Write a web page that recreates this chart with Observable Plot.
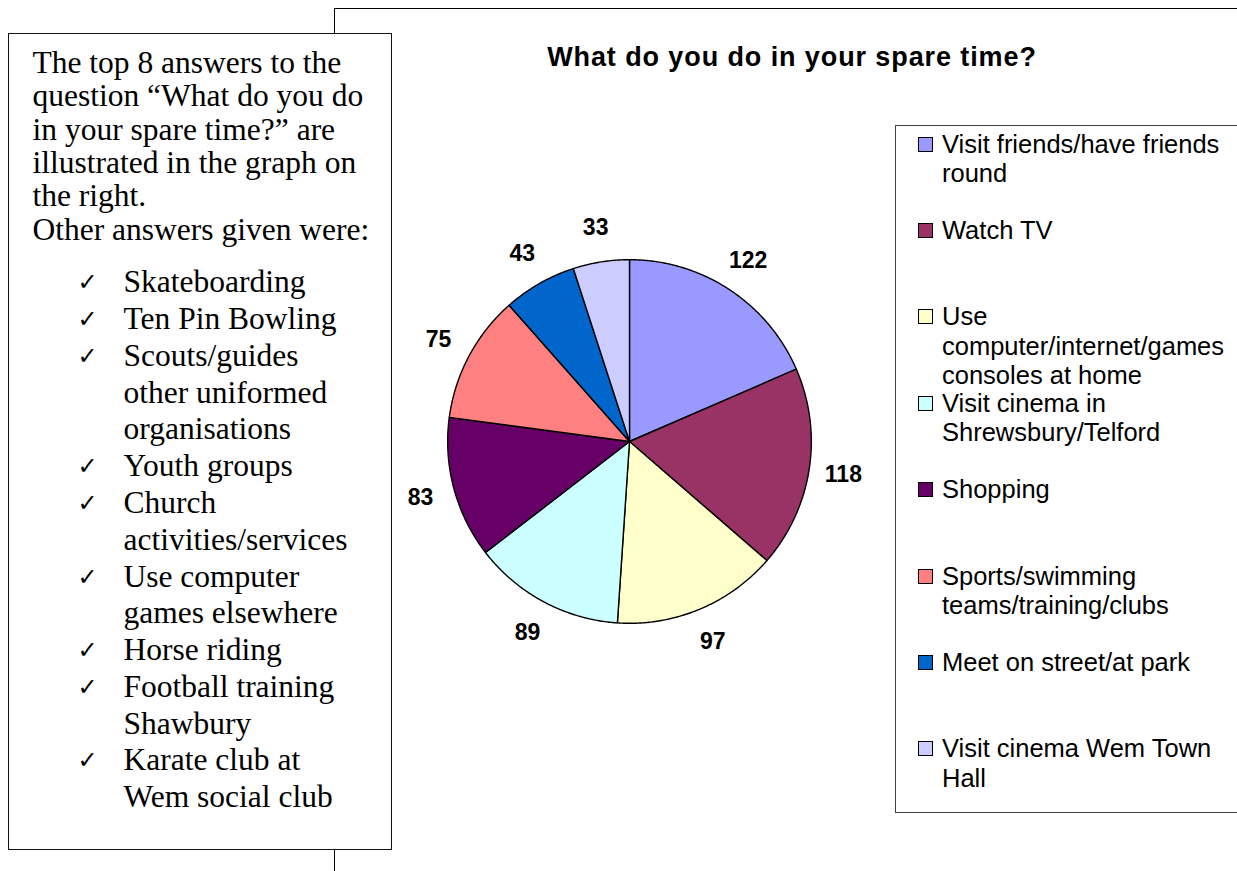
<!DOCTYPE html>
<html><head><meta charset="utf-8">
<script src="https://cdn.jsdelivr.net/npm/d3@7"></script>
<script src="https://cdn.jsdelivr.net/npm/@observablehq/plot@0.6"></script>
<style>
html,body{margin:0;padding:0;background:#fff;}
body{width:1237px;height:871px;position:relative;overflow:hidden;font-family:"Liberation Sans",Arial,sans-serif;}
#frame{position:absolute;left:334px;top:8px;width:1200px;height:1000px;border-left:1px solid #000;border-top:1px solid #000;}
#textbox{position:absolute;left:8px;top:33px;width:384px;height:817px;box-sizing:border-box;border:1.6px solid #111;background:#fff;
  font-family:"Liberation Serif","Times New Roman",serif;font-size:31.5px;color:#000;padding-left:23.5px;padding-top:11.8px;white-space:nowrap;}
#textbox .p{line-height:33.4px;}
#textbox .list{margin-top:17.9px;line-height:36.8px;}
#textbox .item{padding-left:91px;}
#textbox .first{position:relative;}
#textbox .chk{position:absolute;left:-46px;top:0;height:36.8px;line-height:36.8px;font-family:"DejaVu Sans",sans-serif;font-size:24px;}
#title{position:absolute;left:792px;top:42px;transform:translateX(-50%);font-size:27px;font-weight:bold;letter-spacing:0.9px;line-height:30px;white-space:nowrap;color:#000;}
#pie{position:absolute;left:379px;top:191px;width:500px;height:500px;}
#legend{position:absolute;left:895px;top:125px;width:400px;height:688px;box-sizing:border-box;border:1px solid #404040;background:#fff;}
#legend .entry{position:absolute;left:0;}
#legend .sw{position:absolute;left:22px;width:15px;height:15px;box-sizing:border-box;border:1px solid #000;}
#legend .lbl{position:absolute;left:46px;font-size:25.5px;line-height:29.5px;white-space:nowrap;color:#000;}
</style></head><body>
<div id="frame"></div>
<div id="textbox"></div>
<div id="title">What do you do in your spare time?</div>
<div id="legend"></div>
<div id="pie"></div>
<script>
// ---- data ----
const categories = [
  "Visit friends/have friends round",
  "Watch TV",
  "Use computer/internet/games consoles at home",
  "Visit cinema in Shrewsbury/Telford",
  "Shopping",
  "Sports/swimming teams/training/clubs",
  "Meet on street/at park",
  "Visit cinema Wem Town Hall"
];
const values = [122, 118, 97, 89, 83, 75, 43, 33];
const palette = ["#9999FF", "#993366", "#FFFFCC", "#CCFFFF", "#660066", "#FF8080", "#0066CC", "#CCCCFF"];
const legendLines = [
  ["Visit friends/have friends", "round"],
  ["Watch TV"],
  ["Use", "computer/internet/games", "consoles at home"],
  ["Visit cinema in", "Shrewsbury/Telford"],
  ["Shopping"],
  ["Sports/swimming", "teams/training/clubs"],
  ["Meet on street/at park"],
  ["Visit cinema Wem Town", "Hall"]
];
const introLines = [
  "The top 8 answers to the",
  "question \u201cWhat do you do",
  "in your spare time?\u201d are",
  "illustrated in the graph on",
  "the right.",
  "Other answers given were:"
];
const otherAnswers = [
  ["Skateboarding"],
  ["Ten Pin Bowling"],
  ["Scouts/guides", "other uniformed", "organisations"],
  ["Youth groups"],
  ["Church", "activities/services"],
  ["Use computer", "games elsewhere"],
  ["Horse riding"],
  ["Football training", "Shawbury"],
  ["Karate club at", "Wem social club"]
];

// ---- text box ----
const tb = document.getElementById("textbox");
introLines.forEach(t => { const d = document.createElement("div"); d.className = "p"; d.textContent = t; tb.appendChild(d); });
const list = document.createElement("div"); list.className = "list"; tb.appendChild(list);
otherAnswers.forEach(lines => {
  const item = document.createElement("div"); item.className = "item";
  lines.forEach((t, i) => {
    const d = document.createElement("div");
    d.textContent = t;
    if (i === 0) {
      d.className = "first";
      const c = document.createElement("span"); c.className = "chk"; c.textContent = "\u2713";
      d.appendChild(c);
    }
    item.appendChild(d);
  });
  list.appendChild(item);
});

// ---- legend ----
const lg = document.getElementById("legend");
categories.forEach((c, i) => {
  const e = document.createElement("div"); e.className = "entry";
  e.style.top = (143 + 86.4 * i - 125 - 15) + "px";
  const sw = document.createElement("div"); sw.className = "sw"; sw.style.top = "7.5px"; sw.style.background = palette[i];
  const lb = document.createElement("div"); lb.className = "lbl"; lb.style.top = "0.5px";
  lb.innerHTML = legendLines[i].map(s => s.replace(/&/g, "&amp;")).join("<br>");
  e.appendChild(sw); e.appendChild(lb); lg.appendChild(e);
});

// ---- pie ----
const data = categories.map((name, i) => ({name, value: values[i]}));
const arcs = d3.pie().sort(null).value(d => d.value)(data);
const wedgePts = [];
arcs.forEach(s => {
  const n = Math.max(2, Math.ceil((s.endAngle - s.startAngle) / (Math.PI / 360)));
  wedgePts.push({name: s.data.name, x: 0, y: 0});
  for (let k = 0; k <= n; k++) {
    const a = s.startAngle + (s.endAngle - s.startAngle) * k / n;
    wedgePts.push({name: s.data.name, x: Math.sin(a), y: Math.cos(a)});
  }
  wedgePts.push({name: s.data.name, x: 0, y: 0});
});
const labelPts = arcs.map(s => {
  const a = (s.startAngle + s.endAngle) / 2;
  return {x: 1.19 * Math.sin(a), y: 1.19 * Math.cos(a), text: String(s.data.value)};
});

const chart = Plot.plot({
  width: 500, height: 500, margin: 0,
  style: {background: "transparent", overflow: "visible"},
  x: {domain: [-1.375, 1.375], axis: null},
  y: {domain: [-1.375, 1.375], axis: null},
  color: {domain: categories, range: palette},
  marks: [
    Plot.line(wedgePts, {x: "x", y: "y", z: "name", fill: "name", stroke: "#000", strokeWidth: 1.4, strokeLinejoin: "round", curve: "linear"}),
    Plot.text(labelPts, {x: "x", y: "y", text: "text", fontSize: 23, fontWeight: "bold", fontFamily: "Liberation Sans, Arial, sans-serif", fill: "#000"})
  ]
});
document.getElementById("pie").appendChild(chart);
</script>
</body></html>
